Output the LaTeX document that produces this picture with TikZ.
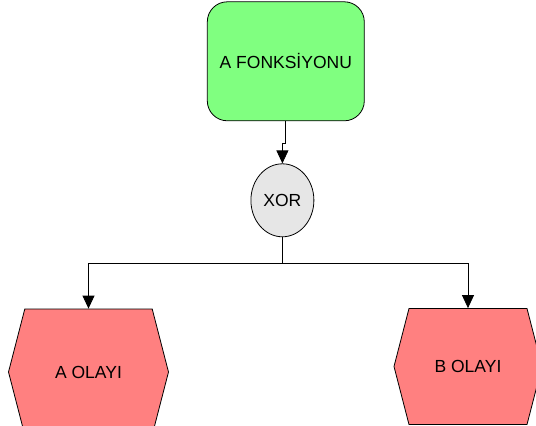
\documentclass[tikz,border=0pt]{standalone}
\usepackage{fontspec}
\setmainfont{Liberation Sans}
\usetikzlibrary{shapes.geometric,shapes.symbols,arrows.meta}
\definecolor{fonkyesil}{HTML}{80FF80}
\definecolor{olaykirmizi}{HTML}{FF8080}
\definecolor{xorgri}{HTML}{E6E6E6}
\tikzset{
  fonksiyon/.style={draw, fill=fonkyesil, rounded corners=20pt, minimum width=157pt, minimum height=119pt, font=\fontsize{17.5}{20}\selectfont},
  baglac/.style={draw, ellipse, fill=xorgri, minimum width=63pt, minimum height=73pt, inner sep=0pt, font=\fontsize{17.5}{20}\selectfont},
  olay/.style={draw, signal, signal to=west and east, signal pointer angle=151, fill=olaykirmizi, inner sep=0pt, font=\fontsize{17.5}{20}\selectfont},
  ok/.style={-{Triangle[length=13pt,width=12pt]}},
}
\begin{document}
\begin{tikzpicture}[x=1pt,y=1pt,line width=0.8pt]
        \clip (0,0) rectangle (536,-426);
        % Nodes
        \node[fonksiyon] (fonk) at (285.8,-61.3) {A FONKSİYONU};
        \node[baglac] (xor) at (282.4,-200.3) {XOR};
        \node[olay, minimum width=160pt, minimum height=126pt] (aolay) at (88.5,-372) {A OLAYI};
        \node[olay, minimum width=148pt, minimum height=116pt] (bolay) at (468,-366.5) {B OLAYI};
        \coordinate (dal) at (282.4,-263);

        % Edges
        \draw[ok] (fonk.south) -- ++(0,-22) -| (xor.north);
        \draw (xor.south) -- (dal);
        \draw[ok] (dal) -| (aolay.north);
        \draw[ok] (dal) -| (bolay.north);
    \end{tikzpicture}
\end{document}
